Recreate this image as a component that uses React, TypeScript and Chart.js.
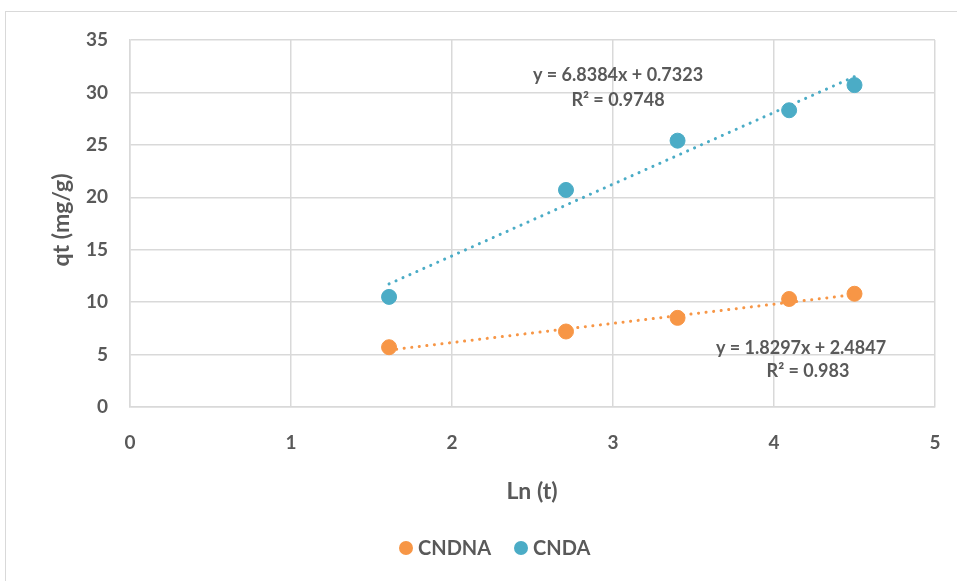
import React, { useEffect, useRef } from "react";
import { Chart, registerables } from "chart.js";

Chart.register(...registerables);

const lnT = [1.609, 2.708, 3.401, 4.094, 4.5];
const cndnaValues = [5.7, 7.2, 8.5, 10.3, 10.8];
const cndaValues = [10.5, 20.7, 25.4, 28.3, 30.7];
const trendX = [1.609, 4.5];
const cndnaTrendY = [5.43, 10.72];
const cndaTrendY = [11.74, 31.51];
const seriesNames = ["CNDNA", "CNDA"];
const cndaEquation = ["y = 6.8384x + 0.7323", "R² = 0.9748"];
const cndnaEquation = ["y = 1.8297x + 2.4847", "R² = 0.983"];
const xTitle = "Ln (t)";
const yTitle = "qt (mg/g)";

const ORANGE = "#F79646";
const BLUE = "#4BACC6";
const TEXT = "#595959";
const GRID = "#d9d9d9";
const FONT = "Lato, 'Open Sans', sans-serif";

const decorPlugin = {
  id: "decor",
  afterDraw(chart: any) {
    const ctx = chart.ctx;
    ctx.save();
    ctx.strokeStyle = GRID;
    ctx.lineWidth = 1;
    ctx.strokeRect(5.5, 11.5, 1000, 1000);

    ctx.fillStyle = TEXT;
    ctx.textAlign = "center";
    ctx.textBaseline = "middle";
    ctx.font = `bold 18px ${FONT}`;
    ctx.fillText(cndaEquation[0], 618, 75);
    ctx.fillText(cndaEquation[1], 618, 100);
    ctx.fillText(cndnaEquation[0], 801, 348);
    ctx.fillText(cndnaEquation[1], 808, 371);

    ctx.font = `bold 23px ${FONT}`;
    ctx.fillText(xTitle, 532, 492);
    ctx.save();
    ctx.translate(62, 220);
    ctx.rotate(-Math.PI / 2);
    ctx.fillText(yTitle, 0, 0);
    ctx.restore();

    ctx.font = `bold 20px ${FONT}`;
    ctx.textAlign = "left";
    const items = [
      { name: seriesNames[0], color: ORANGE, x: 406 },
      { name: seriesNames[1], color: BLUE, x: 521 },
    ];
    for (const it of items) {
      ctx.fillStyle = it.color;
      ctx.beginPath();
      ctx.arc(it.x, 548, 7, 0, Math.PI * 2);
      ctx.fill();
      ctx.fillStyle = TEXT;
      ctx.fillText(it.name, it.x + 12, 549);
    }
    ctx.restore();
  },
};

export default function App() {
  const ref = useRef<HTMLCanvasElement>(null);
  useEffect(() => {
    const toPts = (xs: number[], ys: number[]) => xs.map((x, i) => ({ x, y: ys[i] }));
    const chart = new Chart(ref.current!, {
      type: "scatter",
      data: {
        datasets: [
          {
            label: seriesNames[0] + " trend",
            type: "line",
            data: toPts(trendX, cndnaTrendY),
            borderColor: ORANGE,
            borderWidth: 3,
            borderDash: [0.1, 7.5],
            borderCapStyle: "round",
            pointRadius: 0,
            fill: false,
          },
          {
            label: seriesNames[1] + " trend",
            type: "line",
            data: toPts(trendX, cndaTrendY),
            borderColor: BLUE,
            borderWidth: 3,
            borderDash: [0.1, 7.5],
            borderCapStyle: "round",
            pointRadius: 0,
            fill: false,
          },
          {
            label: seriesNames[0],
            data: toPts(lnT, cndnaValues),
            backgroundColor: ORANGE,
            borderColor: ORANGE,
            pointRadius: 7.5,
          },
          {
            label: seriesNames[1],
            data: toPts(lnT, cndaValues),
            backgroundColor: BLUE,
            borderColor: BLUE,
            pointRadius: 7.5,
          },
        ],
      } as any,
      options: {
        animation: false,
        responsive: false,
        layout: { padding: { left: 0, top: 40, right: 22, bottom: 0 } },
        plugins: { legend: { display: false }, tooltip: { enabled: false } },
        scales: {
          x: {
            type: "linear",
            min: 0,
            max: 5,
            ticks: { stepSize: 1, color: TEXT, font: { family: FONT, size: 19, weight: "bold" }, padding: 0 },
            grid: { color: GRID, lineWidth: 1.5, drawTicks: true, tickLength: 24, tickColor: "rgba(0,0,0,0)" },
            border: { color: GRID, width: 1.5 },
            afterFit: (s: any) => { s.height = 174; },
          },
          y: {
            type: "linear",
            min: 0,
            max: 35,
            ticks: { stepSize: 5, color: TEXT, font: { family: FONT, size: 19, weight: "bold" }, padding: 0 },
            grid: { color: GRID, lineWidth: 1.5, drawTicks: true, tickLength: 22, tickColor: "rgba(0,0,0,0)" },
            border: { color: GRID, width: 1.5 },
            afterFit: (s: any) => { s.width = 130; },
          },
        },
      } as any,
      plugins: [decorPlugin],
    });
    return () => chart.destroy();
  }, []);
  return (
    <div style={{ position: "fixed", left: 0, top: 0, width: 957, height: 581, background: "#fff" }}>
      <canvas ref={ref} width={957} height={581} style={{ display: "block" }} />
    </div>
  );
}
